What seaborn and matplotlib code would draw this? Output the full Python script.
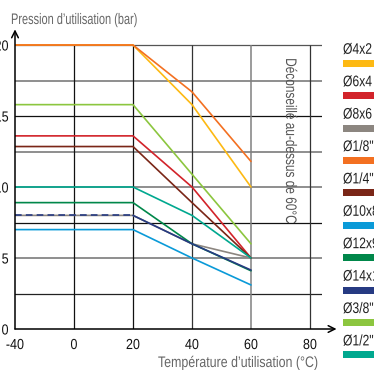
import numpy as np
import pandas as pd
import matplotlib
matplotlib.use("Agg")
import matplotlib.pyplot as plt
import seaborn as sns
from matplotlib.patches import Rectangle
from matplotlib.patheffects import AbstractPathEffect
from matplotlib.transforms import Affine2D

# ---------------- data ----------------
temps = [-40, 20, 40, 60]
labels = ["Ø4x2", "Ø6x4", "Ø8x6", "Ø1/8\"", "Ø1/4\"", "Ø10x8", "Ø12x9", "Ø14x10", "Ø3/8\"", "Ø1/2\""]
colors = ["#FDB913", "#D2232A", "#8C8680", "#F37021", "#7A2617", "#0A9AD8", "#00874A", "#263A82", "#8CC63F", "#00A88F"]
p_4x2 = [20, 20, 15.8, 10]
p_6x4 = [13.6, 13.6, 10, 5]
p_8x6 = [8, 8, 6, 5]
p_1_8 = [20, 20, 16.7, 11.8]
p_1_4 = [12.85, 12.85, 8.9, 5]
p_10x8 = [7, 7, 5, 3.1]
p_12x9 = [8.9, 8.9, 6, 4.1]
p_14x10 = [8, 8, 6, 4.15]
p_3_8 = [15.8, 15.8, 10.9, 6]
p_1_2 = [10, 10, 8, 5]
series = [p_4x2, p_6x4, p_8x6, p_1_8, p_1_4, p_10x8, p_12x9, p_14x10, p_3_8, p_1_2]
xticks = [-40, 0, 20, 40, 60, 80]
yticks = [0, 5, 10, 15, 20]

sns.set_theme(style="white")
plt.rcParams["font.family"] = ["Liberation Sans", "DejaVu Sans"]


class Squeeze(AbstractPathEffect):
    """Render text horizontally condensed (mimics a condensed typeface)."""
    def __init__(self, sx, anchor="center"):
        super().__init__()
        self.sx = sx
        self.anchor = anchor

    def draw_path(self, renderer, gc, tpath, affine, rgbFace=None):
        ext = tpath.get_extents()
        if self.anchor == "center":
            cx = (ext.x0 + ext.x1) / 2.0
        elif self.anchor == "right":
            cx = ext.x1
        else:
            cx = 0.0
        tr = Affine2D().translate(-cx, 0).scale(self.sx, 1.0).translate(cx, 0) + affine
        renderer.draw_path(gc, tpath, tr, rgbFace)


W, H = 374, 370
fig = plt.figure(figsize=(W / 100, H / 100), dpi=100)
fig.patch.set_facecolor("white")
renderer = fig.canvas.get_renderer()


def squeeze_to(t, target_w, anchor="center"):
    rot = t.get_rotation()
    t.set_rotation(0)
    w = t.get_window_extent(renderer).width
    t.set_rotation(rot)
    sx = min(1.0, target_w / w) if w > 0 else 1.0
    t.set_path_effects([Squeeze(sx, anchor)])
    return sx


ppx = 2.95   # px per transformed x unit
ppy = 14.2   # px per y unit
x_lo, x_hi = -40, 84
y_hi = 21
ax = fig.add_axes([15 / W, 41 / H, (x_hi + 20) * ppx / W, y_hi * ppy / H])
ax.set_facecolor("white")

fwd = lambda x: np.where(np.asarray(x) < 0, np.asarray(x) / 2.0, np.asarray(x))
inv = lambda y: np.where(np.asarray(y) < 0, np.asarray(y) * 2.0, np.asarray(y))
ax.set_xscale("function", functions=(fwd, inv))
ax.set_xlim(x_lo, x_hi)
ax.set_ylim(0, y_hi)

# grid
hcols = {2.5: "#222222", 5: "#707070", 7.5: "#111111", 10: "#707070", 12.5: "#707070",
         15: "#111111", 17.5: "#707070", 20: "#555555"}
for yv, c in hcols.items():
    ax.axhline(yv, color=c, lw=1.1 if c == "#707070" else 0.9, zorder=1)
vcols = {0: "#111111", 20: "#111111", 40: "#333333", 60: "#808080", 80: "#333333"}
for xv, c in vcols.items():
    ax.vlines(xv, 0, 20, color=c, lw=1.1 if c == "#808080" else 0.9, zorder=1)

# data lines
order = [2, 0, 3, 8, 1, 4, 9, 6, 5, 7]
for i in order:
    df = pd.DataFrame({"t": temps, "p": series[i]})
    if labels[i] == "Ø14x10":
        sns.lineplot(data=df.iloc[:2], x="t", y="p", color=colors[i], lw=1.2,
                     linestyle=(0, (4, 2.5)), ax=ax, zorder=3, legend=False)
        sns.lineplot(data=df.iloc[1:], x="t", y="p", color=colors[i], lw=1.2,
                     ax=ax, zorder=3, legend=False)
    else:
        sns.lineplot(data=df, x="t", y="p", color=colors[i], lw=1.2, ax=ax,
                     zorder=3, legend=False)

for s in ax.spines.values():
    s.set_visible(False)
ax.set_xlabel("")
ax.set_ylabel("")
ax.set_xticks(xticks)
ax.set_xticklabels([str(v) for v in xticks], fontsize=10.5)
ax.set_yticks(yticks)
ax.set_yticklabels([str(v) for v in yticks], fontsize=10.5)
ax.tick_params(axis="x", length=0, pad=6.5, colors="#111111")
ax.tick_params(axis="y", length=0, pad=4.5, colors="#111111")
ax.grid(False)
for lab in ax.get_xticklabels():
    lab.set_path_effects([Squeeze(0.86, "center")])
for lab in ax.get_yticklabels():
    lab.set_path_effects([Squeeze(0.86, "right")])

# axes with arrows
ax.annotate("", xy=(89, 0), xytext=(-40, 0), xycoords="data",
            arrowprops=dict(arrowstyle="->", lw=1.1, color="black", mutation_scale=12,
                            shrinkA=0, shrinkB=0), annotation_clip=False, zorder=4)
ax.annotate("", xy=(-40, 21.1), xytext=(-40, 0), xycoords="data",
            arrowprops=dict(arrowstyle="->", lw=1.1, color="black", mutation_scale=12,
                            shrinkA=0, shrinkB=0), annotation_clip=False, zorder=4)

# texts
t1 = fig.text(11 / W, 1 - 20 / H, "Pression d\u2019utilisation (bar)", fontsize=11,
              color="#666666", ha="left", va="center")
squeeze_to(t1, 126, "left")
t2 = fig.text(238 / W, 1 - 363 / H, "Température d\u2019utilisation (°C)", fontsize=11,
              color="#666666", ha="center", va="center")
squeeze_to(t2, 160, "center")
t3 = fig.text(290 / W, 1 - 140.5 / H, "Déconseillé au-dessus de 60°C", fontsize=11,
              color="#555555", ha="center", va="center", rotation=-90)
squeeze_to(t3, 165, "center")

# legend
bar_y0, bar_dy = 63.3, 32.4
leg_sx = None
for k, (lab, c) in enumerate(zip(labels, colors)):
    yb = bar_y0 + k * bar_dy
    tl = fig.text(343 / W, 1 - (yb - 13.5) / H, lab, fontsize=11, color="#222222",
                  ha="left", va="center")
    if leg_sx is None:
        leg_sx = squeeze_to(tl, 29, "left")
    else:
        tl.set_path_effects([Squeeze(leg_sx, "left")])
    fig.patches.append(Rectangle((343 / W, 1 - (yb + 3.5) / H), 40 / W, 7 / H,
                                 transform=fig.transFigure, facecolor=c,
                                 edgecolor="none", figure=fig))

fig.savefig("out.png", dpi=100)
